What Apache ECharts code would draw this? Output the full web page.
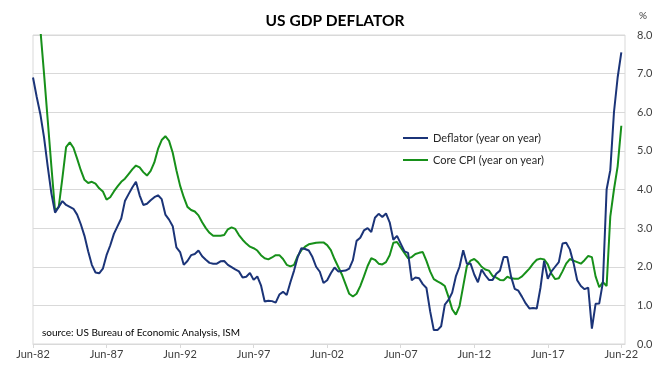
<!DOCTYPE html>
<html>
<head>
<meta charset="utf-8">
<script src="https://cdn.jsdelivr.net/npm/echarts@6/dist/echarts.min.js"></script>
<style>
html,body{margin:0;padding:0;background:#fff;}
#chart{width:671px;height:368px;}
</style>
</head>
<body>
<div id="chart"></div>
<script>
// Quarterly, Jun-82 .. Jun-22 (plus empty Sep-22 slot at the axis end)
const firstYear = 1982;
const quarterMonths = ['Jun', 'Sep', 'Dec', 'Mar'];
const tickLabels = ['Jun-82','Jun-87','Jun-92','Jun-97','Jun-02','Jun-07','Jun-12','Jun-17','Jun-22'];

const deflator = [
  6.9, 6.4, 5.95, 5.35, 4.6, 3.9, 3.4, 3.55, 3.7, 3.6,
  3.55, 3.5, 3.35, 3.1, 2.8, 2.4, 2.05, 1.85, 1.83, 1.95,
  2.3, 2.55, 2.85, 3.05, 3.25, 3.7, 3.88, 4.05, 4.2, 3.85,
  3.6, 3.63, 3.72, 3.8, 3.85, 3.75, 3.35, 3.22, 3.05, 2.5,
  2.38, 2.05, 2.15, 2.3, 2.33, 2.42, 2.27, 2.18, 2.1, 2.08,
  2.08, 2.14, 2.15, 2.05, 1.99, 1.93, 1.88, 1.72, 1.74, 1.84,
  1.66, 1.75, 1.52, 1.1, 1.12, 1.11, 1.07, 1.28, 1.35, 1.27,
  1.6, 1.9, 2.25, 2.48, 2.46, 2.42, 2.25, 2.0, 1.87, 1.58,
  1.65, 1.83, 1.98, 1.88, 1.89, 1.9, 1.95, 2.17, 2.67, 2.75,
  2.94, 3.0, 2.9, 3.27, 3.37, 3.29, 3.38, 3.15, 2.7, 2.8,
  2.6, 2.4, 2.36, 1.65, 1.72, 1.7, 1.55, 1.45, 0.85, 0.36,
  0.36, 0.46, 1.02, 1.14, 1.33, 1.75, 2.0, 2.43, 2.08, 2.08,
  1.8, 1.6, 1.93, 1.78, 1.66, 1.66, 1.82, 1.9, 2.25, 2.25,
  1.75, 1.43, 1.38, 1.22, 1.05, 0.92, 0.93, 0.92, 1.45, 2.15,
  1.69, 1.88, 2.0, 2.12, 2.6, 2.62, 2.45, 2.1, 1.65, 1.5,
  1.42, 1.46, 0.4, 1.04, 1.05, 1.6, 4.0, 4.5, 6.0, 6.9,
  7.55, null
];

const coreCpi = [
  10.5, 9.3, 8.15, 7.0, 5.8, 4.6, 3.45, 3.55, 4.3, 5.1,
  5.22, 5.08, 4.8, 4.5, 4.25, 4.17, 4.2, 4.15, 4.03, 3.95,
  3.74, 3.8, 3.95, 4.08, 4.2, 4.28, 4.4, 4.52, 4.62, 4.57,
  4.45, 4.36, 4.48, 4.7, 5.05, 5.28, 5.38, 5.26, 4.95, 4.5,
  4.1, 3.8, 3.55, 3.47, 3.43, 3.33, 3.15, 3.0, 2.88, 2.8,
  2.8, 2.8, 2.82, 2.97, 3.02, 2.98, 2.82, 2.7, 2.6, 2.52,
  2.48, 2.42, 2.3, 2.22, 2.19, 2.24, 2.3, 2.3, 2.2, 2.05,
  2.01, 2.05, 2.28, 2.43, 2.52, 2.58, 2.6, 2.62, 2.63, 2.63,
  2.56, 2.43, 2.2, 2.0, 1.8, 1.55, 1.3, 1.23, 1.3, 1.5,
  1.75, 2.02, 2.22, 2.18, 2.08, 2.06, 2.12, 2.3, 2.62, 2.64,
  2.5, 2.36, 2.22, 2.25, 2.33, 2.36, 2.38, 2.15, 1.88, 1.68,
  1.62, 1.57, 1.5, 1.22, 0.9, 0.76, 0.98, 1.5, 2.02, 2.16,
  2.2, 2.12, 2.0, 1.93, 1.9, 1.76, 1.72, 1.66, 1.65, 1.74,
  1.7, 1.69, 1.69, 1.75, 1.85, 1.95, 2.08, 2.18, 2.21, 2.19,
  2.06, 1.82, 1.68, 1.7, 1.88, 2.08, 2.2, 2.16, 2.12, 2.08,
  2.17, 2.28, 2.25, 1.75, 1.47, 1.6, 1.5, 3.3, 4.0, 4.6,
  5.65, null
];

const seriesNames = ['Deflator (year on year)', 'Core CPI (year on year)'];
const yTicks = [0, 1, 2, 3, 4, 5, 6, 7, 8];

// build quarter labels
const categories = [];
for (let i = 0; i < deflator.length; i++) {
  const q = i % 4;
  const yr = firstYear + Math.floor(i / 4) + (q === 3 ? 1 : 0);
  categories.push(quarterMonths[q] + '-' + String(yr % 100).padStart(2, '0'));
}

const FONT = 'Lato, "Liberation Sans", sans-serif';
const chart = echarts.init(document.getElementById('chart'), null, {renderer: 'canvas'});
chart.setOption({
  animation: false,
  backgroundColor: '#ffffff',
  title: {
    text: 'US GDP DEFLATOR',
    left: 330, top: 8, textAlign: 'center',
    textStyle: {fontFamily: FONT, fontWeight: 'bold', fontSize: 15.5, color: '#000'}
  },
  legend: {
    data: seriesNames,
    orient: 'vertical',
    left: 398, top: 126,
    icon: 'rect', itemWidth: 25, itemHeight: 2, itemGap: 8,
    textStyle: {fontFamily: FONT, fontSize: 11, color: '#262626', lineHeight: 14}
  },
  grid: {
    left: 33, right: 46, top: 35, bottom: 24,
    show: true, borderColor: '#d9d9d9', borderWidth: 1
  },
  xAxis: {
    type: 'category',
    data: categories,
    boundaryGap: false,
    axisLine: {lineStyle: {color: '#d9d9d9'}},
    axisTick: {show: true, length: 4, lineStyle: {color: '#d9d9d9'},
      interval: (idx) => idx % 20 === 0},
    axisLabel: {
      interval: (idx, v) => tickLabels.indexOf(v) >= 0,
      fontFamily: FONT, fontSize: 11, color: '#404040', margin: 5
    },
    splitLine: {show: false}
  },
  yAxis: {
    type: 'value',
    position: 'right',
    min: yTicks[0], max: yTicks[yTicks.length - 1], interval: 1,
    axisLine: {show: false},
    axisTick: {show: false},
    axisLabel: {fontFamily: FONT, fontSize: 11, color: '#404040', margin: 12,
      formatter: (v) => v.toFixed(1)},
    splitLine: {lineStyle: {color: '#d9d9d9', width: 1}}
  },
  series: [
    {name: seriesNames[0], type: 'line', data: deflator, showSymbol: false, symbol: 'none',
      lineStyle: {color: '#1b3478', width: 2}, itemStyle: {color: '#1b3478'}, z: 3},
    {name: seriesNames[1], type: 'line', data: coreCpi, showSymbol: false, symbol: 'none',
      lineStyle: {color: '#17901a', width: 2}, itemStyle: {color: '#17901a'}, z: 2}
  ],
  graphic: [
    {type: 'text', left: 639, top: 11,
      style: {text: '%', fontFamily: FONT, fontSize: 10, fill: '#404040'}},
    {type: 'text', left: 42, top: 328,
      style: {text: 'source: US Bureau of Economic Analysis, ISM', fontFamily: FONT, fontSize: 10, fill: '#000'}}
  ]
});
</script>
</body>
</html>
